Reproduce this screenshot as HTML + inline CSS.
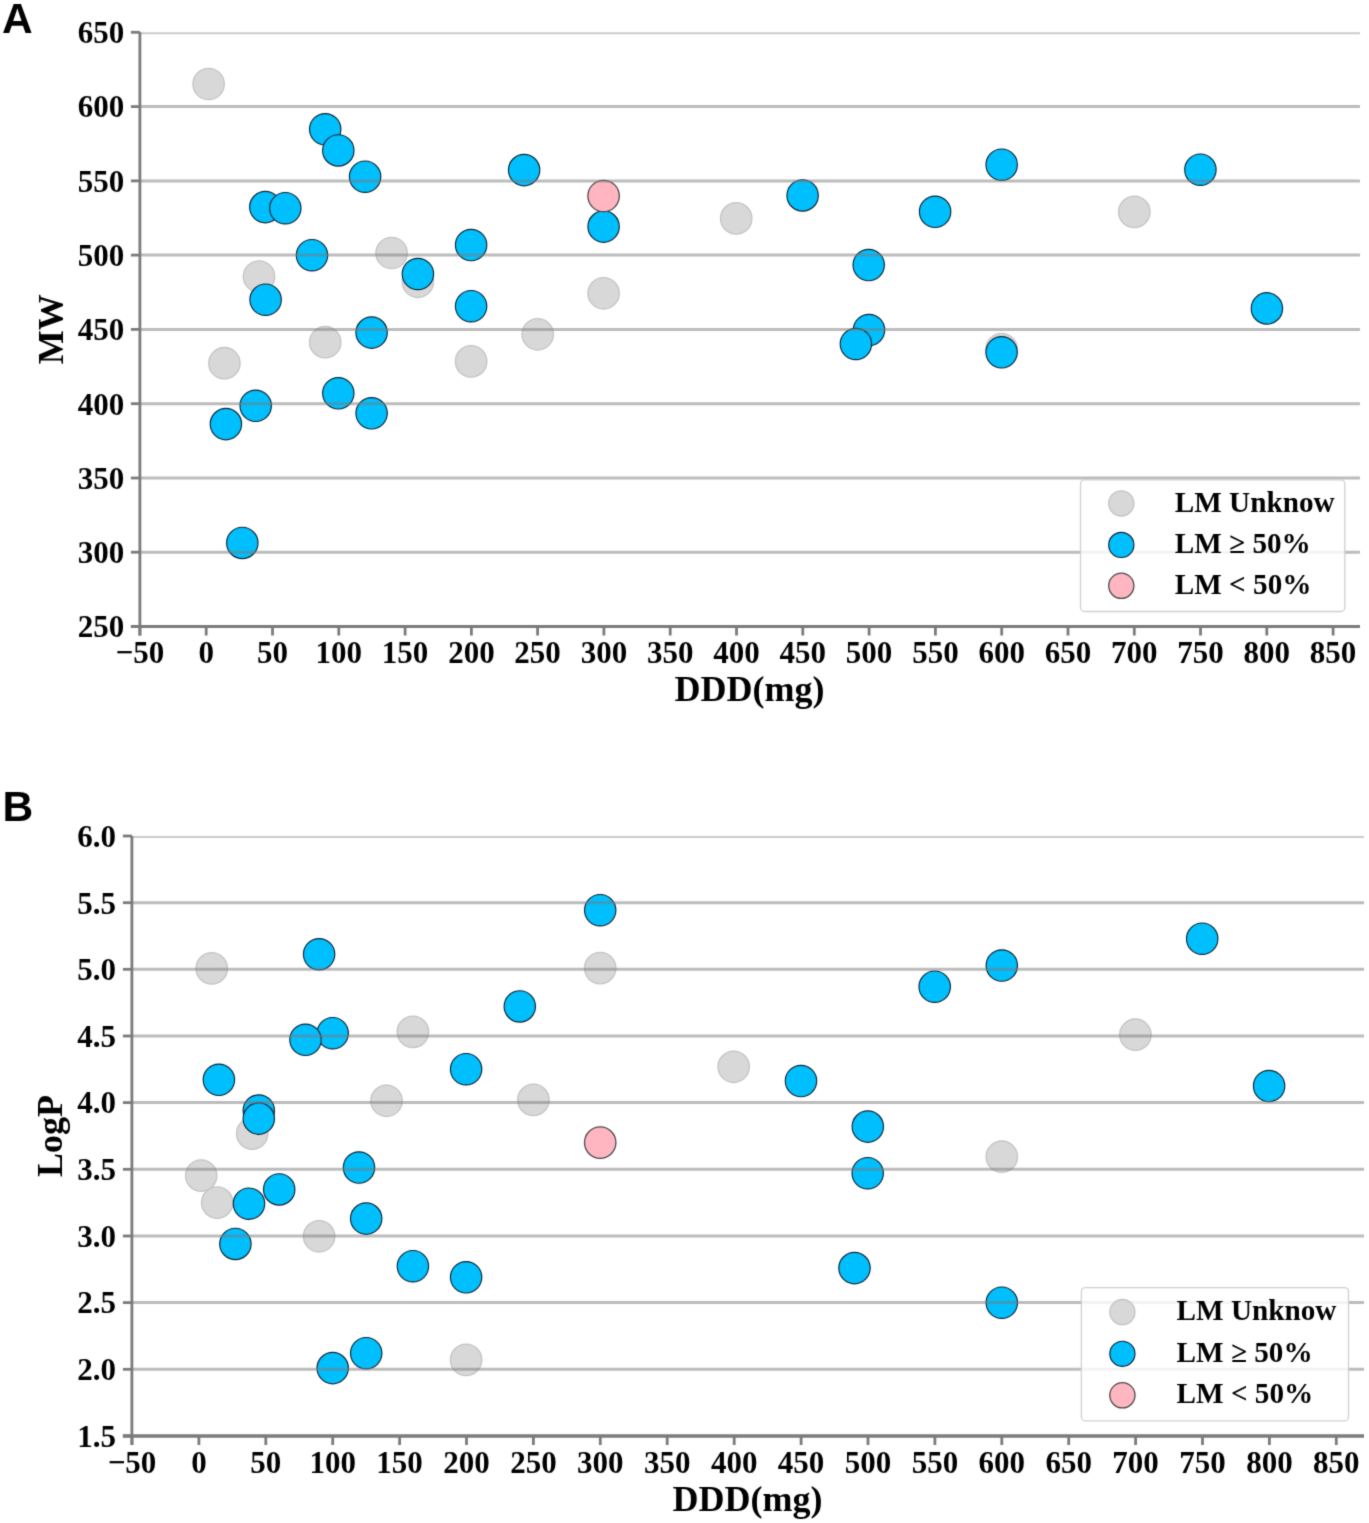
<!DOCTYPE html>
<html><head><meta charset="utf-8"><title>Scatter plots</title>
<style>
html,body{margin:0;padding:0;background:#fff;}
body{width:1369px;height:1523px;overflow:hidden;font-family:"Liberation Serif", serif;}
svg{display:block;}
</style></head>
<body>
<svg width="1369" height="1523" viewBox="0 0 1369 1523">
<defs><filter id="soft" filterUnits="userSpaceOnUse" x="0" y="0" width="1369" height="1523" color-interpolation-filters="sRGB"><feConvolveMatrix order="3" kernelMatrix="0.01917 0.10012 0.01917 0.10012 0.52283 0.10012 0.01917 0.10012 0.01917" edgeMode="duplicate" preserveAlpha="true"/></filter></defs>
<rect x="0" y="0" width="1369" height="1523" fill="#ffffff"/>
<g filter="url(#soft)">
<rect x="0" y="0" width="1369" height="1523" fill="#ffffff"/>
<circle cx="208.6" cy="84.0" r="15.7" fill="#d8d8d8" stroke="#c4c4c4" stroke-width="1.3"/>
<circle cx="259.0" cy="276.5" r="15.7" fill="#d8d8d8" stroke="#c4c4c4" stroke-width="1.3"/>
<circle cx="391.6" cy="253.0" r="15.7" fill="#d8d8d8" stroke="#c4c4c4" stroke-width="1.3"/>
<circle cx="417.9" cy="281.8" r="15.7" fill="#d8d8d8" stroke="#c4c4c4" stroke-width="1.3"/>
<circle cx="325.2" cy="342.2" r="15.7" fill="#d8d8d8" stroke="#c4c4c4" stroke-width="1.3"/>
<circle cx="224.4" cy="363.2" r="15.7" fill="#d8d8d8" stroke="#c4c4c4" stroke-width="1.3"/>
<circle cx="603.6" cy="293.3" r="15.7" fill="#d8d8d8" stroke="#c4c4c4" stroke-width="1.3"/>
<circle cx="537.7" cy="334.3" r="15.7" fill="#d8d8d8" stroke="#c4c4c4" stroke-width="1.3"/>
<circle cx="471.1" cy="361.4" r="15.7" fill="#d8d8d8" stroke="#c4c4c4" stroke-width="1.3"/>
<circle cx="736.2" cy="218.4" r="15.7" fill="#d8d8d8" stroke="#c4c4c4" stroke-width="1.3"/>
<circle cx="1001.6" cy="349.0" r="15.7" fill="#d8d8d8" stroke="#c4c4c4" stroke-width="1.3"/>
<circle cx="1134.3" cy="211.9" r="15.7" fill="#d8d8d8" stroke="#c4c4c4" stroke-width="1.3"/>
<circle cx="325.2" cy="129.3" r="15.7" fill="#00bfff" stroke="#10252f" stroke-width="1.15"/>
<circle cx="338.3" cy="150.4" r="15.7" fill="#00bfff" stroke="#10252f" stroke-width="1.15"/>
<circle cx="365.1" cy="176.7" r="15.7" fill="#00bfff" stroke="#10252f" stroke-width="1.15"/>
<circle cx="265.3" cy="207.1" r="15.7" fill="#00bfff" stroke="#10252f" stroke-width="1.15"/>
<circle cx="285.3" cy="208.2" r="15.7" fill="#00bfff" stroke="#10252f" stroke-width="1.15"/>
<circle cx="265.6" cy="299.7" r="15.7" fill="#00bfff" stroke="#10252f" stroke-width="1.15"/>
<circle cx="312.0" cy="255.2" r="15.7" fill="#00bfff" stroke="#10252f" stroke-width="1.15"/>
<circle cx="417.9" cy="274.0" r="15.7" fill="#00bfff" stroke="#10252f" stroke-width="1.15"/>
<circle cx="371.6" cy="332.6" r="15.7" fill="#00bfff" stroke="#10252f" stroke-width="1.15"/>
<circle cx="255.7" cy="405.8" r="15.7" fill="#00bfff" stroke="#10252f" stroke-width="1.15"/>
<circle cx="225.9" cy="424.1" r="15.7" fill="#00bfff" stroke="#10252f" stroke-width="1.15"/>
<circle cx="338.3" cy="393.3" r="15.7" fill="#00bfff" stroke="#10252f" stroke-width="1.15"/>
<circle cx="371.6" cy="413.3" r="15.7" fill="#00bfff" stroke="#10252f" stroke-width="1.15"/>
<circle cx="242.3" cy="542.9" r="15.7" fill="#00bfff" stroke="#10252f" stroke-width="1.15"/>
<circle cx="524.1" cy="170.1" r="15.7" fill="#00bfff" stroke="#10252f" stroke-width="1.15"/>
<circle cx="603.6" cy="226.6" r="15.7" fill="#00bfff" stroke="#10252f" stroke-width="1.15"/>
<circle cx="471.1" cy="245.0" r="15.7" fill="#00bfff" stroke="#10252f" stroke-width="1.15"/>
<circle cx="471.1" cy="306.2" r="15.7" fill="#00bfff" stroke="#10252f" stroke-width="1.15"/>
<circle cx="802.6" cy="195.4" r="15.7" fill="#00bfff" stroke="#10252f" stroke-width="1.15"/>
<circle cx="935.1" cy="211.8" r="15.7" fill="#00bfff" stroke="#10252f" stroke-width="1.15"/>
<circle cx="868.7" cy="265.0" r="15.7" fill="#00bfff" stroke="#10252f" stroke-width="1.15"/>
<circle cx="869.0" cy="330.0" r="15.7" fill="#00bfff" stroke="#10252f" stroke-width="1.15"/>
<circle cx="855.9" cy="344.0" r="15.7" fill="#00bfff" stroke="#10252f" stroke-width="1.15"/>
<circle cx="1001.6" cy="352.3" r="15.7" fill="#00bfff" stroke="#10252f" stroke-width="1.15"/>
<circle cx="1001.7" cy="164.7" r="15.7" fill="#00bfff" stroke="#10252f" stroke-width="1.15"/>
<circle cx="1200.4" cy="169.7" r="15.7" fill="#00bfff" stroke="#10252f" stroke-width="1.15"/>
<circle cx="1266.9" cy="308.4" r="15.7" fill="#00bfff" stroke="#10252f" stroke-width="1.15"/>
<circle cx="603.6" cy="196.0" r="15.7" fill="#ffb6c1" stroke="#4a4a4a" stroke-width="1.3"/>
<line x1="139.9" y1="33.3" x2="1360.0" y2="33.3" stroke="rgba(140,140,140,0.45)" stroke-width="1.9"/>
<line x1="139.9" y1="106.6" x2="1360.0" y2="106.6" stroke="rgba(122,122,122,0.5)" stroke-width="3.0"/>
<line x1="139.9" y1="180.9" x2="1360.0" y2="180.9" stroke="rgba(122,122,122,0.5)" stroke-width="3.0"/>
<line x1="139.9" y1="255.1" x2="1360.0" y2="255.1" stroke="rgba(122,122,122,0.5)" stroke-width="3.0"/>
<line x1="139.9" y1="329.4" x2="1360.0" y2="329.4" stroke="rgba(122,122,122,0.5)" stroke-width="3.0"/>
<line x1="139.9" y1="403.7" x2="1360.0" y2="403.7" stroke="rgba(122,122,122,0.5)" stroke-width="3.0"/>
<line x1="139.9" y1="478.0" x2="1360.0" y2="478.0" stroke="rgba(122,122,122,0.5)" stroke-width="3.0"/>
<line x1="139.9" y1="552.2" x2="1360.0" y2="552.2" stroke="rgba(122,122,122,0.5)" stroke-width="3.0"/>
<rect x="1080.5" y="479.8" width="264.3" height="131.7" rx="4" ry="4" fill="rgba(255,255,255,0.82)" stroke="#d0d0d0" stroke-width="1.3"/>
<circle cx="1121.3" cy="503.4" r="12.6" fill="#d8d8d8" stroke="#c4c4c4" stroke-width="1.3"/>
<text x="1174.8" y="511.5" font-family='"Liberation Serif", serif' font-weight="bold" font-size="29.2">LM Unknow</text>
<circle cx="1121.3" cy="544.9" r="12.6" fill="#00bfff" stroke="#10252f" stroke-width="1.15"/>
<text x="1174.8" y="553.0" font-family='"Liberation Serif", serif' font-weight="bold" font-size="29.2">LM ≥ 50%</text>
<circle cx="1121.3" cy="585.8" r="12.6" fill="#ffb6c1" stroke="#4a4a4a" stroke-width="1.3"/>
<text x="1174.8" y="594.0" font-family='"Liberation Serif", serif' font-weight="bold" font-size="29.2">LM &lt; 50%</text>
<line x1="139.9" y1="32.3" x2="139.9" y2="635.5" stroke="#7b7b7b" stroke-width="2.8"/>
<line x1="130.9" y1="626.5" x2="1360.0" y2="626.5" stroke="#7b7b7b" stroke-width="2.8"/>
<line x1="130.9" y1="32.3" x2="139.9" y2="32.3" stroke="#7b7b7b" stroke-width="2.8"/>
<text transform="translate(124.2,43.1) scale(1,1.04)" text-anchor="end" font-family='"Liberation Serif", serif' font-weight="bold" font-size="31">650</text>
<line x1="130.9" y1="106.6" x2="139.9" y2="106.6" stroke="#7b7b7b" stroke-width="2.8"/>
<text transform="translate(124.2,117.4) scale(1,1.04)" text-anchor="end" font-family='"Liberation Serif", serif' font-weight="bold" font-size="31">600</text>
<line x1="130.9" y1="180.9" x2="139.9" y2="180.9" stroke="#7b7b7b" stroke-width="2.8"/>
<text transform="translate(124.2,191.7) scale(1,1.04)" text-anchor="end" font-family='"Liberation Serif", serif' font-weight="bold" font-size="31">550</text>
<line x1="130.9" y1="255.1" x2="139.9" y2="255.1" stroke="#7b7b7b" stroke-width="2.8"/>
<text transform="translate(124.2,265.9) scale(1,1.04)" text-anchor="end" font-family='"Liberation Serif", serif' font-weight="bold" font-size="31">500</text>
<line x1="130.9" y1="329.4" x2="139.9" y2="329.4" stroke="#7b7b7b" stroke-width="2.8"/>
<text transform="translate(124.2,340.2) scale(1,1.04)" text-anchor="end" font-family='"Liberation Serif", serif' font-weight="bold" font-size="31">450</text>
<line x1="130.9" y1="403.7" x2="139.9" y2="403.7" stroke="#7b7b7b" stroke-width="2.8"/>
<text transform="translate(124.2,414.5) scale(1,1.04)" text-anchor="end" font-family='"Liberation Serif", serif' font-weight="bold" font-size="31">400</text>
<line x1="130.9" y1="478.0" x2="139.9" y2="478.0" stroke="#7b7b7b" stroke-width="2.8"/>
<text transform="translate(124.2,488.8) scale(1,1.04)" text-anchor="end" font-family='"Liberation Serif", serif' font-weight="bold" font-size="31">350</text>
<line x1="130.9" y1="552.2" x2="139.9" y2="552.2" stroke="#7b7b7b" stroke-width="2.8"/>
<text transform="translate(124.2,563.0) scale(1,1.04)" text-anchor="end" font-family='"Liberation Serif", serif' font-weight="bold" font-size="31">300</text>
<line x1="130.9" y1="626.5" x2="139.9" y2="626.5" stroke="#7b7b7b" stroke-width="2.8"/>
<text transform="translate(124.2,637.3) scale(1,1.04)" text-anchor="end" font-family='"Liberation Serif", serif' font-weight="bold" font-size="31">250</text>
<line x1="139.9" y1="626.5" x2="139.9" y2="635.5" stroke="#7b7b7b" stroke-width="2.8"/>
<text transform="translate(139.9,663.0) scale(1,1.04)" text-anchor="middle" font-family='"Liberation Serif", serif' font-weight="bold" font-size="31">−50</text>
<line x1="206.2" y1="626.5" x2="206.2" y2="635.5" stroke="#7b7b7b" stroke-width="2.8"/>
<text transform="translate(206.2,663.0) scale(1,1.04)" text-anchor="middle" font-family='"Liberation Serif", serif' font-weight="bold" font-size="31">0</text>
<line x1="272.5" y1="626.5" x2="272.5" y2="635.5" stroke="#7b7b7b" stroke-width="2.8"/>
<text transform="translate(272.5,663.0) scale(1,1.04)" text-anchor="middle" font-family='"Liberation Serif", serif' font-weight="bold" font-size="31">50</text>
<line x1="338.8" y1="626.5" x2="338.8" y2="635.5" stroke="#7b7b7b" stroke-width="2.8"/>
<text transform="translate(338.8,663.0) scale(1,1.04)" text-anchor="middle" font-family='"Liberation Serif", serif' font-weight="bold" font-size="31">100</text>
<line x1="405.1" y1="626.5" x2="405.1" y2="635.5" stroke="#7b7b7b" stroke-width="2.8"/>
<text transform="translate(405.1,663.0) scale(1,1.04)" text-anchor="middle" font-family='"Liberation Serif", serif' font-weight="bold" font-size="31">150</text>
<line x1="471.4" y1="626.5" x2="471.4" y2="635.5" stroke="#7b7b7b" stroke-width="2.8"/>
<text transform="translate(471.4,663.0) scale(1,1.04)" text-anchor="middle" font-family='"Liberation Serif", serif' font-weight="bold" font-size="31">200</text>
<line x1="537.6" y1="626.5" x2="537.6" y2="635.5" stroke="#7b7b7b" stroke-width="2.8"/>
<text transform="translate(537.6,663.0) scale(1,1.04)" text-anchor="middle" font-family='"Liberation Serif", serif' font-weight="bold" font-size="31">250</text>
<line x1="603.9" y1="626.5" x2="603.9" y2="635.5" stroke="#7b7b7b" stroke-width="2.8"/>
<text transform="translate(603.9,663.0) scale(1,1.04)" text-anchor="middle" font-family='"Liberation Serif", serif' font-weight="bold" font-size="31">300</text>
<line x1="670.2" y1="626.5" x2="670.2" y2="635.5" stroke="#7b7b7b" stroke-width="2.8"/>
<text transform="translate(670.2,663.0) scale(1,1.04)" text-anchor="middle" font-family='"Liberation Serif", serif' font-weight="bold" font-size="31">350</text>
<line x1="736.5" y1="626.5" x2="736.5" y2="635.5" stroke="#7b7b7b" stroke-width="2.8"/>
<text transform="translate(736.5,663.0) scale(1,1.04)" text-anchor="middle" font-family='"Liberation Serif", serif' font-weight="bold" font-size="31">400</text>
<line x1="802.8" y1="626.5" x2="802.8" y2="635.5" stroke="#7b7b7b" stroke-width="2.8"/>
<text transform="translate(802.8,663.0) scale(1,1.04)" text-anchor="middle" font-family='"Liberation Serif", serif' font-weight="bold" font-size="31">450</text>
<line x1="869.1" y1="626.5" x2="869.1" y2="635.5" stroke="#7b7b7b" stroke-width="2.8"/>
<text transform="translate(869.1,663.0) scale(1,1.04)" text-anchor="middle" font-family='"Liberation Serif", serif' font-weight="bold" font-size="31">500</text>
<line x1="935.4" y1="626.5" x2="935.4" y2="635.5" stroke="#7b7b7b" stroke-width="2.8"/>
<text transform="translate(935.4,663.0) scale(1,1.04)" text-anchor="middle" font-family='"Liberation Serif", serif' font-weight="bold" font-size="31">550</text>
<line x1="1001.7" y1="626.5" x2="1001.7" y2="635.5" stroke="#7b7b7b" stroke-width="2.8"/>
<text transform="translate(1001.7,663.0) scale(1,1.04)" text-anchor="middle" font-family='"Liberation Serif", serif' font-weight="bold" font-size="31">600</text>
<line x1="1068.0" y1="626.5" x2="1068.0" y2="635.5" stroke="#7b7b7b" stroke-width="2.8"/>
<text transform="translate(1068.0,663.0) scale(1,1.04)" text-anchor="middle" font-family='"Liberation Serif", serif' font-weight="bold" font-size="31">650</text>
<line x1="1134.3" y1="626.5" x2="1134.3" y2="635.5" stroke="#7b7b7b" stroke-width="2.8"/>
<text transform="translate(1134.3,663.0) scale(1,1.04)" text-anchor="middle" font-family='"Liberation Serif", serif' font-weight="bold" font-size="31">700</text>
<line x1="1200.5" y1="626.5" x2="1200.5" y2="635.5" stroke="#7b7b7b" stroke-width="2.8"/>
<text transform="translate(1200.5,663.0) scale(1,1.04)" text-anchor="middle" font-family='"Liberation Serif", serif' font-weight="bold" font-size="31">750</text>
<line x1="1266.8" y1="626.5" x2="1266.8" y2="635.5" stroke="#7b7b7b" stroke-width="2.8"/>
<text transform="translate(1266.8,663.0) scale(1,1.04)" text-anchor="middle" font-family='"Liberation Serif", serif' font-weight="bold" font-size="31">800</text>
<line x1="1333.1" y1="626.5" x2="1333.1" y2="635.5" stroke="#7b7b7b" stroke-width="2.8"/>
<text transform="translate(1333.1,663.0) scale(1,1.04)" text-anchor="middle" font-family='"Liberation Serif", serif' font-weight="bold" font-size="31">850</text>
<text x="749.5" y="701.3" text-anchor="middle" font-family='"Liberation Serif", serif' font-weight="bold" font-size="36">DDD(mg)</text>
<text transform="translate(63.0,329.2) rotate(-90)" x="0" y="0" text-anchor="middle" font-family='"Liberation Serif", serif' font-weight="bold" font-size="36">MW</text>
<text x="2.0" y="33.0" font-family='"Liberation Sans", sans-serif' font-weight="bold" font-size="42.5">A</text>
<circle cx="211.7" cy="968.4" r="15.7" fill="#d8d8d8" stroke="#c4c4c4" stroke-width="1.3"/>
<circle cx="412.9" cy="1031.9" r="15.7" fill="#d8d8d8" stroke="#c4c4c4" stroke-width="1.3"/>
<circle cx="386.5" cy="1100.8" r="15.7" fill="#d8d8d8" stroke="#c4c4c4" stroke-width="1.3"/>
<circle cx="252.2" cy="1133.6" r="15.7" fill="#d8d8d8" stroke="#c4c4c4" stroke-width="1.3"/>
<circle cx="201.2" cy="1175.6" r="15.7" fill="#d8d8d8" stroke="#c4c4c4" stroke-width="1.3"/>
<circle cx="217.2" cy="1202.6" r="15.7" fill="#d8d8d8" stroke="#c4c4c4" stroke-width="1.3"/>
<circle cx="319.1" cy="1236.3" r="15.7" fill="#d8d8d8" stroke="#c4c4c4" stroke-width="1.3"/>
<circle cx="600.2" cy="968.1" r="15.7" fill="#d8d8d8" stroke="#c4c4c4" stroke-width="1.3"/>
<circle cx="533.4" cy="1099.9" r="15.7" fill="#d8d8d8" stroke="#c4c4c4" stroke-width="1.3"/>
<circle cx="466.1" cy="1359.9" r="15.7" fill="#d8d8d8" stroke="#c4c4c4" stroke-width="1.3"/>
<circle cx="733.7" cy="1066.8" r="15.7" fill="#d8d8d8" stroke="#c4c4c4" stroke-width="1.3"/>
<circle cx="1001.8" cy="1156.7" r="15.7" fill="#d8d8d8" stroke="#c4c4c4" stroke-width="1.3"/>
<circle cx="1135.4" cy="1034.7" r="15.7" fill="#d8d8d8" stroke="#c4c4c4" stroke-width="1.3"/>
<circle cx="319.1" cy="954.3" r="15.7" fill="#00bfff" stroke="#10252f" stroke-width="1.15"/>
<circle cx="332.7" cy="1033.2" r="15.7" fill="#00bfff" stroke="#10252f" stroke-width="1.15"/>
<circle cx="305.5" cy="1039.8" r="15.7" fill="#00bfff" stroke="#10252f" stroke-width="1.15"/>
<circle cx="218.9" cy="1079.8" r="15.7" fill="#00bfff" stroke="#10252f" stroke-width="1.15"/>
<circle cx="258.8" cy="1110.5" r="15.7" fill="#00bfff" stroke="#10252f" stroke-width="1.15"/>
<circle cx="258.8" cy="1118.6" r="15.7" fill="#00bfff" stroke="#10252f" stroke-width="1.15"/>
<circle cx="249.0" cy="1203.7" r="15.7" fill="#00bfff" stroke="#10252f" stroke-width="1.15"/>
<circle cx="279.2" cy="1189.4" r="15.7" fill="#00bfff" stroke="#10252f" stroke-width="1.15"/>
<circle cx="359.0" cy="1167.5" r="15.7" fill="#00bfff" stroke="#10252f" stroke-width="1.15"/>
<circle cx="366.2" cy="1218.6" r="15.7" fill="#00bfff" stroke="#10252f" stroke-width="1.15"/>
<circle cx="235.4" cy="1243.9" r="15.7" fill="#00bfff" stroke="#10252f" stroke-width="1.15"/>
<circle cx="412.9" cy="1266.2" r="15.7" fill="#00bfff" stroke="#10252f" stroke-width="1.15"/>
<circle cx="332.7" cy="1368.1" r="15.7" fill="#00bfff" stroke="#10252f" stroke-width="1.15"/>
<circle cx="366.2" cy="1353.2" r="15.7" fill="#00bfff" stroke="#10252f" stroke-width="1.15"/>
<circle cx="600.2" cy="910.2" r="15.7" fill="#00bfff" stroke="#10252f" stroke-width="1.15"/>
<circle cx="519.8" cy="1006.4" r="15.7" fill="#00bfff" stroke="#10252f" stroke-width="1.15"/>
<circle cx="466.1" cy="1069.2" r="15.7" fill="#00bfff" stroke="#10252f" stroke-width="1.15"/>
<circle cx="466.1" cy="1277.3" r="15.7" fill="#00bfff" stroke="#10252f" stroke-width="1.15"/>
<circle cx="934.7" cy="986.7" r="15.7" fill="#00bfff" stroke="#10252f" stroke-width="1.15"/>
<circle cx="801.0" cy="1081.0" r="15.7" fill="#00bfff" stroke="#10252f" stroke-width="1.15"/>
<circle cx="867.8" cy="1126.6" r="15.7" fill="#00bfff" stroke="#10252f" stroke-width="1.15"/>
<circle cx="867.7" cy="1173.2" r="15.7" fill="#00bfff" stroke="#10252f" stroke-width="1.15"/>
<circle cx="854.5" cy="1268.1" r="15.7" fill="#00bfff" stroke="#10252f" stroke-width="1.15"/>
<circle cx="1001.8" cy="1302.7" r="15.7" fill="#00bfff" stroke="#10252f" stroke-width="1.15"/>
<circle cx="1001.8" cy="965.5" r="15.7" fill="#00bfff" stroke="#10252f" stroke-width="1.15"/>
<circle cx="1202.2" cy="938.7" r="15.7" fill="#00bfff" stroke="#10252f" stroke-width="1.15"/>
<circle cx="1269.1" cy="1086.0" r="15.7" fill="#00bfff" stroke="#10252f" stroke-width="1.15"/>
<circle cx="600.2" cy="1142.6" r="15.7" fill="#ffb6c1" stroke="#4a4a4a" stroke-width="1.3"/>
<line x1="131.9" y1="837.0" x2="1364.0" y2="837.0" stroke="rgba(140,140,140,0.45)" stroke-width="1.9"/>
<line x1="131.9" y1="902.7" x2="1364.0" y2="902.7" stroke="rgba(122,122,122,0.5)" stroke-width="3.0"/>
<line x1="131.9" y1="969.3" x2="1364.0" y2="969.3" stroke="rgba(122,122,122,0.5)" stroke-width="3.0"/>
<line x1="131.9" y1="1036.0" x2="1364.0" y2="1036.0" stroke="rgba(122,122,122,0.5)" stroke-width="3.0"/>
<line x1="131.9" y1="1102.6" x2="1364.0" y2="1102.6" stroke="rgba(122,122,122,0.5)" stroke-width="3.0"/>
<line x1="131.9" y1="1169.3" x2="1364.0" y2="1169.3" stroke="rgba(122,122,122,0.5)" stroke-width="3.0"/>
<line x1="131.9" y1="1236.0" x2="1364.0" y2="1236.0" stroke="rgba(122,122,122,0.5)" stroke-width="3.0"/>
<line x1="131.9" y1="1302.6" x2="1364.0" y2="1302.6" stroke="rgba(122,122,122,0.5)" stroke-width="3.0"/>
<line x1="131.9" y1="1369.3" x2="1364.0" y2="1369.3" stroke="rgba(122,122,122,0.5)" stroke-width="3.0"/>
<rect x="1081.4" y="1287.6" width="267.1" height="133.3" rx="4" ry="4" fill="rgba(255,255,255,0.82)" stroke="#d0d0d0" stroke-width="1.3"/>
<circle cx="1122.4" cy="1312.1" r="12.6" fill="#d8d8d8" stroke="#c4c4c4" stroke-width="1.3"/>
<text x="1176.6" y="1320.4" font-family='"Liberation Serif", serif' font-weight="bold" font-size="29.2">LM Unknow</text>
<circle cx="1122.4" cy="1353.8" r="12.6" fill="#00bfff" stroke="#10252f" stroke-width="1.15"/>
<text x="1176.6" y="1361.9" font-family='"Liberation Serif", serif' font-weight="bold" font-size="29.2">LM ≥ 50%</text>
<circle cx="1122.4" cy="1395.3" r="12.6" fill="#ffb6c1" stroke="#4a4a4a" stroke-width="1.3"/>
<text x="1176.6" y="1403.4" font-family='"Liberation Serif", serif' font-weight="bold" font-size="29.2">LM &lt; 50%</text>
<line x1="131.9" y1="836.0" x2="131.9" y2="1445.0" stroke="#7b7b7b" stroke-width="2.8"/>
<line x1="122.9" y1="1436.0" x2="1364.0" y2="1436.0" stroke="#7b7b7b" stroke-width="3.4"/>
<line x1="122.9" y1="836.0" x2="131.9" y2="836.0" stroke="#7b7b7b" stroke-width="2.8"/>
<text transform="translate(116.0,846.8) scale(1,1.04)" text-anchor="end" font-family='"Liberation Serif", serif' font-weight="bold" font-size="31">6.0</text>
<line x1="122.9" y1="902.7" x2="131.9" y2="902.7" stroke="#7b7b7b" stroke-width="2.8"/>
<text transform="translate(116.0,913.5) scale(1,1.04)" text-anchor="end" font-family='"Liberation Serif", serif' font-weight="bold" font-size="31">5.5</text>
<line x1="122.9" y1="969.3" x2="131.9" y2="969.3" stroke="#7b7b7b" stroke-width="2.8"/>
<text transform="translate(116.0,980.1) scale(1,1.04)" text-anchor="end" font-family='"Liberation Serif", serif' font-weight="bold" font-size="31">5.0</text>
<line x1="122.9" y1="1036.0" x2="131.9" y2="1036.0" stroke="#7b7b7b" stroke-width="2.8"/>
<text transform="translate(116.0,1046.8) scale(1,1.04)" text-anchor="end" font-family='"Liberation Serif", serif' font-weight="bold" font-size="31">4.5</text>
<line x1="122.9" y1="1102.6" x2="131.9" y2="1102.6" stroke="#7b7b7b" stroke-width="2.8"/>
<text transform="translate(116.0,1113.4) scale(1,1.04)" text-anchor="end" font-family='"Liberation Serif", serif' font-weight="bold" font-size="31">4.0</text>
<line x1="122.9" y1="1169.3" x2="131.9" y2="1169.3" stroke="#7b7b7b" stroke-width="2.8"/>
<text transform="translate(116.0,1180.1) scale(1,1.04)" text-anchor="end" font-family='"Liberation Serif", serif' font-weight="bold" font-size="31">3.5</text>
<line x1="122.9" y1="1236.0" x2="131.9" y2="1236.0" stroke="#7b7b7b" stroke-width="2.8"/>
<text transform="translate(116.0,1246.8) scale(1,1.04)" text-anchor="end" font-family='"Liberation Serif", serif' font-weight="bold" font-size="31">3.0</text>
<line x1="122.9" y1="1302.6" x2="131.9" y2="1302.6" stroke="#7b7b7b" stroke-width="2.8"/>
<text transform="translate(116.0,1313.4) scale(1,1.04)" text-anchor="end" font-family='"Liberation Serif", serif' font-weight="bold" font-size="31">2.5</text>
<line x1="122.9" y1="1369.3" x2="131.9" y2="1369.3" stroke="#7b7b7b" stroke-width="2.8"/>
<text transform="translate(116.0,1380.1) scale(1,1.04)" text-anchor="end" font-family='"Liberation Serif", serif' font-weight="bold" font-size="31">2.0</text>
<line x1="122.9" y1="1435.9" x2="131.9" y2="1435.9" stroke="#7b7b7b" stroke-width="2.8"/>
<text transform="translate(116.0,1446.7) scale(1,1.04)" text-anchor="end" font-family='"Liberation Serif", serif' font-weight="bold" font-size="31">1.5</text>
<line x1="132.0" y1="1436.0" x2="132.0" y2="1445.0" stroke="#7b7b7b" stroke-width="2.8"/>
<text transform="translate(132.0,1472.5) scale(1,1.04)" text-anchor="middle" font-family='"Liberation Serif", serif' font-weight="bold" font-size="31">−50</text>
<line x1="198.9" y1="1436.0" x2="198.9" y2="1445.0" stroke="#7b7b7b" stroke-width="2.8"/>
<text transform="translate(198.9,1472.5) scale(1,1.04)" text-anchor="middle" font-family='"Liberation Serif", serif' font-weight="bold" font-size="31">0</text>
<line x1="265.8" y1="1436.0" x2="265.8" y2="1445.0" stroke="#7b7b7b" stroke-width="2.8"/>
<text transform="translate(265.8,1472.5) scale(1,1.04)" text-anchor="middle" font-family='"Liberation Serif", serif' font-weight="bold" font-size="31">50</text>
<line x1="332.7" y1="1436.0" x2="332.7" y2="1445.0" stroke="#7b7b7b" stroke-width="2.8"/>
<text transform="translate(332.7,1472.5) scale(1,1.04)" text-anchor="middle" font-family='"Liberation Serif", serif' font-weight="bold" font-size="31">100</text>
<line x1="399.6" y1="1436.0" x2="399.6" y2="1445.0" stroke="#7b7b7b" stroke-width="2.8"/>
<text transform="translate(399.6,1472.5) scale(1,1.04)" text-anchor="middle" font-family='"Liberation Serif", serif' font-weight="bold" font-size="31">150</text>
<line x1="466.5" y1="1436.0" x2="466.5" y2="1445.0" stroke="#7b7b7b" stroke-width="2.8"/>
<text transform="translate(466.5,1472.5) scale(1,1.04)" text-anchor="middle" font-family='"Liberation Serif", serif' font-weight="bold" font-size="31">200</text>
<line x1="533.4" y1="1436.0" x2="533.4" y2="1445.0" stroke="#7b7b7b" stroke-width="2.8"/>
<text transform="translate(533.4,1472.5) scale(1,1.04)" text-anchor="middle" font-family='"Liberation Serif", serif' font-weight="bold" font-size="31">250</text>
<line x1="600.3" y1="1436.0" x2="600.3" y2="1445.0" stroke="#7b7b7b" stroke-width="2.8"/>
<text transform="translate(600.3,1472.5) scale(1,1.04)" text-anchor="middle" font-family='"Liberation Serif", serif' font-weight="bold" font-size="31">300</text>
<line x1="667.2" y1="1436.0" x2="667.2" y2="1445.0" stroke="#7b7b7b" stroke-width="2.8"/>
<text transform="translate(667.2,1472.5) scale(1,1.04)" text-anchor="middle" font-family='"Liberation Serif", serif' font-weight="bold" font-size="31">350</text>
<line x1="734.2" y1="1436.0" x2="734.2" y2="1445.0" stroke="#7b7b7b" stroke-width="2.8"/>
<text transform="translate(734.2,1472.5) scale(1,1.04)" text-anchor="middle" font-family='"Liberation Serif", serif' font-weight="bold" font-size="31">400</text>
<line x1="801.1" y1="1436.0" x2="801.1" y2="1445.0" stroke="#7b7b7b" stroke-width="2.8"/>
<text transform="translate(801.1,1472.5) scale(1,1.04)" text-anchor="middle" font-family='"Liberation Serif", serif' font-weight="bold" font-size="31">450</text>
<line x1="868.0" y1="1436.0" x2="868.0" y2="1445.0" stroke="#7b7b7b" stroke-width="2.8"/>
<text transform="translate(868.0,1472.5) scale(1,1.04)" text-anchor="middle" font-family='"Liberation Serif", serif' font-weight="bold" font-size="31">500</text>
<line x1="934.9" y1="1436.0" x2="934.9" y2="1445.0" stroke="#7b7b7b" stroke-width="2.8"/>
<text transform="translate(934.9,1472.5) scale(1,1.04)" text-anchor="middle" font-family='"Liberation Serif", serif' font-weight="bold" font-size="31">550</text>
<line x1="1001.8" y1="1436.0" x2="1001.8" y2="1445.0" stroke="#7b7b7b" stroke-width="2.8"/>
<text transform="translate(1001.8,1472.5) scale(1,1.04)" text-anchor="middle" font-family='"Liberation Serif", serif' font-weight="bold" font-size="31">600</text>
<line x1="1068.7" y1="1436.0" x2="1068.7" y2="1445.0" stroke="#7b7b7b" stroke-width="2.8"/>
<text transform="translate(1068.7,1472.5) scale(1,1.04)" text-anchor="middle" font-family='"Liberation Serif", serif' font-weight="bold" font-size="31">650</text>
<line x1="1135.6" y1="1436.0" x2="1135.6" y2="1445.0" stroke="#7b7b7b" stroke-width="2.8"/>
<text transform="translate(1135.6,1472.5) scale(1,1.04)" text-anchor="middle" font-family='"Liberation Serif", serif' font-weight="bold" font-size="31">700</text>
<line x1="1202.5" y1="1436.0" x2="1202.5" y2="1445.0" stroke="#7b7b7b" stroke-width="2.8"/>
<text transform="translate(1202.5,1472.5) scale(1,1.04)" text-anchor="middle" font-family='"Liberation Serif", serif' font-weight="bold" font-size="31">750</text>
<line x1="1269.4" y1="1436.0" x2="1269.4" y2="1445.0" stroke="#7b7b7b" stroke-width="2.8"/>
<text transform="translate(1269.4,1472.5) scale(1,1.04)" text-anchor="middle" font-family='"Liberation Serif", serif' font-weight="bold" font-size="31">800</text>
<line x1="1336.3" y1="1436.0" x2="1336.3" y2="1445.0" stroke="#7b7b7b" stroke-width="2.8"/>
<text transform="translate(1336.3,1472.5) scale(1,1.04)" text-anchor="middle" font-family='"Liberation Serif", serif' font-weight="bold" font-size="31">850</text>
<text x="747.5" y="1511.3" text-anchor="middle" font-family='"Liberation Serif", serif' font-weight="bold" font-size="36">DDD(mg)</text>
<text transform="translate(61.5,1136.0) rotate(-90)" x="0" y="0" text-anchor="middle" font-family='"Liberation Serif", serif' font-weight="bold" font-size="36">LogP</text>
<text x="2.6" y="820.5" font-family='"Liberation Sans", sans-serif' font-weight="bold" font-size="42.5">B</text>
</g>
</svg>
</body></html>
